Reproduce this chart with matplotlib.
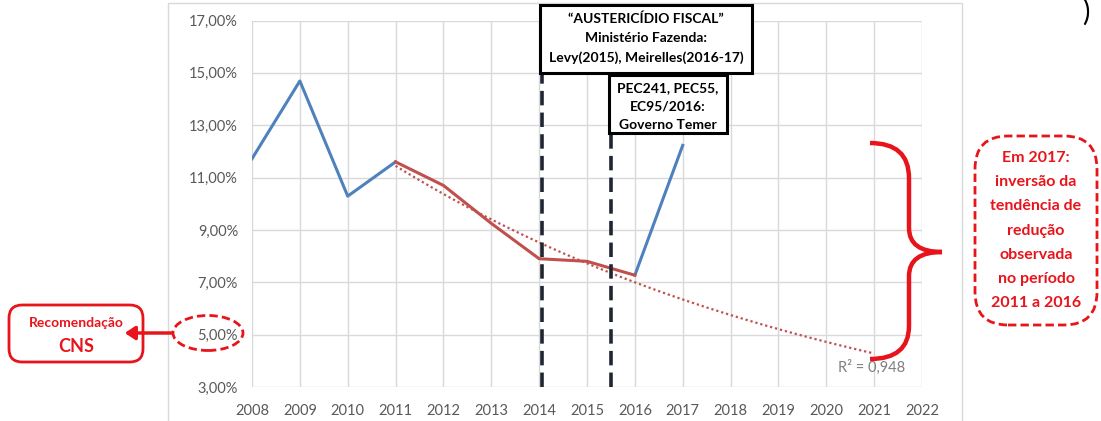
import numpy as np
import matplotlib.pyplot as plt
from matplotlib.patches import Rectangle, FancyBboxPatch, Ellipse, PathPatch, FancyArrowPatch
from matplotlib.path import Path

plt.rcParams['font.family'] = ['Lato', 'DejaVu Sans']

# data (% per year)
anos = [2008, 2009, 2010, 2011, 2012, 2013, 2014, 2015, 2016, 2017]
valores = [11.72, 14.69, 10.29, 11.60, 10.70, 9.25, 7.90, 7.80, 7.27, 12.23]
anos_queda = [2011, 2012, 2013, 2014, 2015, 2016]   # red segment + trend
xticks = list(range(2008, 2023))
yticks = [3, 5, 7, 9, 11, 13, 15, 17]
marco_austeridade = 2014.05
marco_pec = 2015.5

W, H = 1101, 421
fig = plt.figure(figsize=(W / 100, H / 100), dpi=100)

def px(x, y):
    return x / W, 1 - y / H

ax = fig.add_axes([252 / W, 1 - 387 / H, 670 / W, (387 - 20.5) / H])
ax.set_xlim(2008, 2022)
ax.set_ylim(3, 17)
ax.set_xticks(xticks)
ax.set_yticks(yticks)
ax.set_yticklabels([f"{v:.2f}%".replace('.', ',') for v in yticks])
ax.grid(True, color='#D9D9D9', lw=1)
ax.set_axisbelow(True)
for s in ax.spines.values():
    s.set_visible(False)
ax.tick_params(length=0, colors='#595959', labelsize=10.5)
ax.tick_params(axis='x', pad=12)
ax.tick_params(axis='y', pad=10)

# series
i0 = anos.index(2011)
i1 = anos.index(2016)
ax.plot(anos[:i0 + 1], valores[:i0 + 1], color='#4F81BD', lw=2.2, zorder=3)
ax.plot(anos[i1:], valores[i1:], color='#4F81BD', lw=2.2, zorder=3)
ax.plot(anos[i0:i1 + 1], valores[i0:i1 + 1], color='#C0504D', lw=2.2, zorder=3)

# exponential trend fitted on 2011-2016, extended to 2021
xq = np.array(anos_queda) - 2010
yq = np.array(valores[i0:i1 + 1])
b, a = np.polyfit(xq, np.log(yq), 1)
xt = np.linspace(1, 11, 100)
ax.plot(xt + 2010, np.exp(a + b * xt), color='#C0504D', lw=1.6, ls=(0, (1, 1.3)), zorder=2)
ax.text(2021.65, 3.75, "R² = 0,948", color='#7F7F7F', fontsize=10.5, ha='right', va='center')

# vertical dashed marks
ax.plot([marco_austeridade] * 2, [3, 15.0], color='#1F2631', lw=2.6, ls=(0, (4, 2)), clip_on=False, zorder=4)
ax.plot([marco_pec] * 2, [3, 12.7], color='#1F2631', lw=2.6, ls=(0, (4, 2)), clip_on=False, zorder=4)

# chart area border
fig.patches.append(Rectangle(px(168, 430), (962 - 168) / W, (430 - 3) / H,
                             transform=fig.transFigure, fill=False, ec='#D9D9D9', lw=1))

# black boxes
def caixa(x0, y0, x1, y1, linhas, dy):
    fig.patches.append(Rectangle(px(x0, y1), (x1 - x0) / W, (y1 - y0) / H,
                                 transform=fig.transFigure, fc='white', ec='black', lw=2.2, zorder=5))
    cx = (x0 + x1) / 2
    for k, t in enumerate(linhas):
        fig.text(*px(cx, y0 + dy * (k + 0.5) + 4), t, ha='center', va='center',
                 fontsize=10, fontweight='bold', color='black', zorder=6)

caixa(540, 5, 752, 73, ["“AUSTERICÍDIO FISCAL”", "Ministério Fazenda:", "Levy(2015), Meirelles(2016-17)"], 19.5)
caixa(609, 75, 727, 133, ["PEC241, PEC55,", "EC95/2016:", "Governo Temer"], 18.5)

vermelho = '#E8141B'

# brace
v = [px(870, 143), px(909, 143), px(909, 178),
     px(909, 228),
     px(909, 252), px(942, 252),
     px(909, 252), px(909, 276),
     px(909, 326),
     px(909, 359), px(870, 359)]
codes = [Path.MOVETO, Path.CURVE3, Path.CURVE3,
         Path.LINETO,
         Path.CURVE3, Path.CURVE3,
         Path.CURVE3, Path.CURVE3,
         Path.LINETO,
         Path.CURVE3, Path.CURVE3]
fig.patches.append(PathPatch(Path(v, codes), transform=fig.transFigure, fill=False,
                             ec=vermelho, lw=3.2, capstyle='butt'))

# right dashed box
fig.patches.append(FancyBboxPatch(px(975, 325), 122 / W, 189 / H, boxstyle='round,pad=0,rounding_size=0.03',
                                  transform=fig.transFigure, fill=False, ec=vermelho, lw=2, ls=(0, (3, 1.5)),
                                  mutation_aspect=W / H))
txt_dir = ["Em 2017:", "inversão da", "tendência de", "redução", "observada", "no período", "2011 a 2016"]
for k, t in enumerate(txt_dir):
    fig.text(*px(1036, 158 + 24.2 * k), t, ha='center', va='center', fontsize=11.5,
             fontweight='bold', color=vermelho)

# CNS box + arrow + ellipse
fig.patches.append(FancyBboxPatch(px(9, 362), 134 / W, 57 / H, boxstyle='round,pad=0,rounding_size=0.012',
                                  transform=fig.transFigure, fill=False, ec=vermelho, lw=2,
                                  mutation_aspect=W / H))
fig.text(*px(76, 323), "Recomendação", ha='center', va='center', fontsize=10, fontweight='bold', color=vermelho)
fig.text(*px(76, 347), "CNS", ha='center', va='center', fontsize=13, fontweight='bold', color=vermelho)
fig.patches.append(FancyArrowPatch(px(174, 333), px(122, 333), transform=fig.transFigure,
                                   arrowstyle='-|>,head_length=6,head_width=4', color=vermelho, lw=2.5))
fig.patches.append(Ellipse(px(208, 333), 70 / W, 35 / H, transform=fig.transFigure, fill=False,
                           ec=vermelho, lw=2, ls=(0, (3, 1.5))))

# cut-off title bracket at top right
fig.text(*px(1086, 12), ")", ha='center', va='center', fontsize=20, color='black')

fig.savefig("out.png", dpi=100)
